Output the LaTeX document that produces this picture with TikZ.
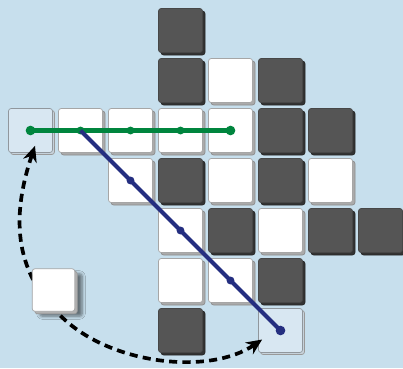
\documentclass[tikz,border=0pt]{standalone}
\usetikzlibrary{shadows,shadows.blur,arrows.meta}
\definecolor{bgBlue}{RGB}{199,223,237}
\definecolor{tileDark}{RGB}{85,85,85}
\definecolor{tileGoal}{RGB}{216,231,242}
\definecolor{pathGreen}{RGB}{0,133,62}
\definecolor{pathBlue}{RGB}{36,46,128}
\tikzset{tile/.style={rectangle,minimum size=0.88cm,inner sep=0pt,rounded corners=1.5pt,line width=.4pt},
 darktile/.style={tile,fill=tileDark,draw=black!72,
   general shadow={fill=black!80,draw=black!85,shadow xshift=.05cm,shadow yshift=-.05cm}},
 whitetile/.style={tile,fill=white,draw=black!35,
   general shadow={fill=black!33,draw=black!45,shadow xshift=.05cm,shadow yshift=-.05cm}},
 goaltile/.style={tile,fill=tileGoal,draw=black!30!tileGoal!70!gray,
   general shadow={fill=tileGoal!80!gray,draw=gray!80,shadow xshift=.04cm,shadow yshift=-.04cm}},
 greenline/.style={draw=pathGreen,line width=2.4pt},
 blueline/.style={draw=pathBlue,line width=2.4pt},
 bigdot/.style={circle,inner sep=0pt,minimum size=5.5pt},
 smalldot/.style={circle,inner sep=0pt,minimum size=4.5pt},
 swapline/.style={draw=black,line width=2.1pt,dash pattern=on 4.6pt off 3pt,
   {Stealth[length=9pt,width=8pt]}-{Stealth[length=9pt,width=8pt]}},
 every picture/.style={line join=round}}
\begin{document}
\begin{tikzpicture}[x=1cm,y=-1cm]
\fill[bgBlue] (0,0) rectangle (8.06,7.36);
\useasboundingbox (0,0) rectangle (8.06,7.36);
% row 0
\node[darktile] (t03) at (3.61,0.61) {};
% row 1
\node[darktile] (t13) at (3.61,1.61) {};
\node[whitetile] (t14) at (4.61,1.61) {};
\node[darktile] (t15) at (5.61,1.61) {};
% row 2
\node[goaltile] (t20) at (0.61,2.61) {};
\node[whitetile] (t21) at (1.61,2.61) {};
\node[whitetile] (t22) at (2.61,2.61) {};
\node[whitetile] (t23) at (3.61,2.61) {};
\node[whitetile] (t24) at (4.61,2.61) {};
\node[darktile] (t25) at (5.61,2.61) {};
\node[darktile] (t26) at (6.61,2.61) {};
% row 3
\node[whitetile] (t32) at (2.61,3.61) {};
\node[darktile] (t33) at (3.61,3.61) {};
\node[whitetile] (t34) at (4.61,3.61) {};
\node[darktile] (t35) at (5.61,3.61) {};
\node[whitetile] (t36) at (6.61,3.61) {};
% row 4
\node[whitetile] (t43) at (3.61,4.61) {};
\node[darktile] (t44) at (4.61,4.61) {};
\node[whitetile] (t45) at (5.61,4.61) {};
\node[darktile] (t46) at (6.61,4.61) {};
\node[darktile] (t47) at (7.61,4.61) {};
% row 5
\node[whitetile] (t53) at (3.61,5.61) {};
\node[whitetile] (t54) at (4.61,5.61) {};
\node[darktile] (t55) at (5.61,5.61) {};
% row 6
\node[darktile] (t63) at (3.61,6.61) {};
\node[goaltile] (t65) at (5.61,6.61) {};
% horizontal path
\draw[greenline] (t20.center) -- (t24.center);
\node[bigdot,fill=pathGreen] (g0) at (t20.center) {};
\node[smalldot,fill=pathGreen] (g1) at (t21.center) {};
\node[smalldot,fill=pathGreen] (g2) at (t22.center) {};
\node[smalldot,fill=pathGreen] (g3) at (t23.center) {};
\node[bigdot,fill=pathGreen] (g4) at (t24.center) {};
% diagonal path
\draw[blueline] (t21.center) -- (t65.center);
\node[smalldot,fill=pathBlue] (b1) at (t32.center) {};
\node[smalldot,fill=pathBlue] (b2) at (t43.center) {};
\node[smalldot,fill=pathBlue] (b3) at (t54.center) {};
\node[bigdot,fill=pathBlue] (b4) at (t65.center) {};
% swap arc
\coordinate (arcA) at ([shift={(0.09,-0.14)}]t20.south);
\coordinate (arcB) at ([shift={(0.08,0.18)}]t65.west);
\draw[swapline] (arcA) .. controls (0.2,4.4) and (0.3,5.5) .. (1.3,6.4)
  .. controls (2.3,7.3) and (4.2,7.5) .. (arcB);
% loose tile
\node[tile,fill=white,draw=black!35,minimum size=0.85cm,
  blur shadow={shadow xshift=.15cm,shadow yshift=-.1cm,shadow blur steps=6,shadow opacity=50},
  general shadow={fill=black!30,draw=black!40,shadow xshift=.05cm,shadow yshift=-.05cm}]
  (loose) at (1.07,5.8) {};
\end{tikzpicture}
\end{document}
